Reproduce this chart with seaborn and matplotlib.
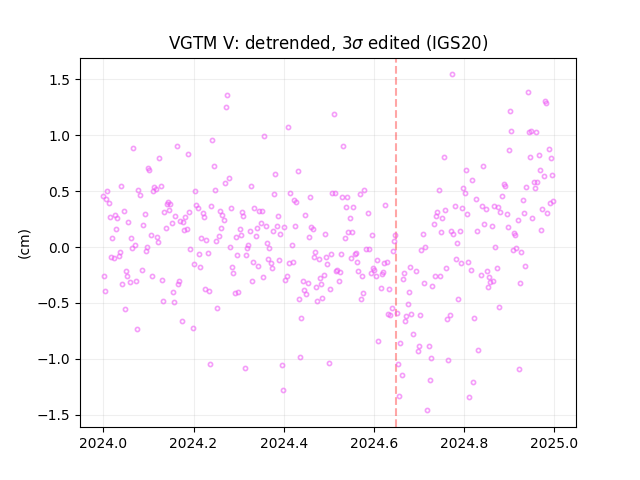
import numpy as np
import pandas as pd
import matplotlib
matplotlib.use('Agg')
import matplotlib.pyplot as plt
import seaborn as sns

# year fraction after 2024.0 and residual in cm
frac_a = [.0660,.1636,.1237,.1880,.0993,.1015,.0393,.0083,.0000,.0061,.0127,.0771,.0815,.1126,.1170,.1104,.1281,.2035,.2058,.2102,
          .1436,.1414,.1481,.1348,.1459,.0460,.0260,.0149,.0305,.0926,.0549,.0882,.0283,.0194,.1059,.1192,.1214,.0615,.1392,.1525,
          .1592,.1814,.1902,.1703,.1769,.1791,.1858,.2213,.2235,.2169,.2280,.0704,.0638,.0970,.1925]
resid_a = [.885,.903,.796,.832,.706,.688,.545,.501,.456,.429,.393,.510,.465,.536,.518,.501,.545,.501,.375,.349,
           .402,.384,.384,.313,.331,.322,.286,.268,.259,.295,.223,.196,.161,.080,.107,.089,.044,.080,.170,.214,
           .277,.268,.313,.232,.223,.152,.161,.304,.268,.080,.062,.018,-.009,0,-.021]

frac_b = [.0948,.0371,.0349,.0172,.0238,.2124,.2013,.2146,.0016,.0504,.0527,.0859,.1081,.1303,.1680,.1658,.0416,.0593,.0726,.0038,
          .1547,.1325,.1569,.0482,.1747,.0749,.1991]
resid_b = [-.036,-.045,-.081,-.090,-.099,-.063,-.152,-.179,-.260,-.215,-.260,-.206,-.260,-.295,-.304,-.331,-.331,-.313,-.304,-.394,
           -.403,-.483,-.492,-.555,-.662,-.734,-.725]

frac_c = [.2746,.2723,.4099,.3567,.2413,.2457,.2790,.2701,.3811,.4321,.3278,.2479,.3788,.4143,.4587,.4232,.4277,.2390,.2834,.2590,
          .2635,.2679,.3078,.3101,.3345,.3456,.3522,.3877,.4476,.3500,.3411,.3611,.3855,.4010,.4254,.4609,.4654,.3766,.3922,.4920,
          .4565,.2612,.3034,.3256,.3056,.2945,.2568,.3389,.2501,.3633,.3212,.4188,.2812,.3189,.3677]
resid_c = [1.359,1.252,1.073,.993,.957,.724,.617,.572,.653,.679,.545,.510,.474,.483,.447,.420,.402,.366,.349,.322,
           .286,.241,.313,.277,.349,.322,.322,.277,.286,.214,.170,.188,.188,.179,.188,.179,.161,.143,.116,.116,
           .089,.170,.161,.143,.107,.089,.098,.098,.053,.035,.018,.018,0,-.009,-.009]

frac_d = [.2324,.2967,.3167,.4698,.4676,.4787,.4942,.5053,.3655,.3899,.3322,.3722,.3744,.3433,.4121,.4210,.4964,.2856,.2879,.3544,
          .3300,.4077,.4033,.4432,.4543,.4898,.4809,.4831,.4720,.5031,.4454,.4498,.4343,.4854,.4743,.2923,.2990,.2265,.2346,.2524,
          .4388,.4365,.2368,.3145,.3966,.5009,.3988]
resid_d = [-.054,-.072,-.072,-.045,-.090,-.108,-.090,-.063,-.108,-.117,-.134,-.143,-.188,-.170,-.143,-.134,-.152,-.179,-.233,-.269,
           -.304,-.260,-.295,-.304,-.322,-.251,-.278,-.331,-.358,-.376,-.385,-.421,-.465,-.456,-.483,-.412,-.403,-.376,-.394,-.546,
           -.635,-.984,-1.047,-1.083,-1.056,-1.038,-1.279]

frac_e = [.5120,.5319,.7561,.5785,.5697,.7450,.5075,.5142,.5297,.5408,.5386,.5541,.6251,.5475,.5874,.7405,.7383,.7583,.7516,.7339,
          .7494,.5430,.5519,.5364,.5963,.6473,.6451,.7095,.7139,.7050,.5830,.5896,.6429]
resid_e = [1.189,.903,.805,.510,.474,.510,.483,.483,.447,.447,.357,.357,.375,.259,.304,.313,.277,.331,.259,.205,
           .134,.134,.134,.080,.107,.107,.053,.116,0,-.024,-.021,-.021,-.036]

frac_f = [.5275,.5586,.5608,.5497,.5630,.6074,.6229,.6296,.6806,.5985,.6007,.5652,.5164,.5186,.5253,.5941,.6207,.6185,.5741,.6052,
          .6673,.6939,.7605,.6651,.7361,.7472,.5231,.7117,.7294,.6163,.6340,.5763,.5719,.6784,.6762,.6407,.6318,.6362,.6518,.6717,
          .6828,.7028,.6695,.7627,.7694,.6873,.6096,.6584,.7006,.7228,.6984,.7272,.7649,.6540,.6629,.7250,.6562,.7183]
resid_f = [-.063,-.063,-.054,-.099,-.134,-.117,-.143,-.134,-.179,-.188,-.206,-.215,-.212,-.206,-.224,-.233,-.224,-.242,-.260,-.260,
           -.233,-.215,-.188,-.287,-.260,-.260,-.304,-.322,-.349,-.367,-.376,-.412,-.465,-.403,-.510,-.546,-.600,-.609,-.591,-.617,
           -.600,-.609,-.662,-.644,-.609,-.778,-.841,-.859,-.886,-.886,-.931,-.993,-1.011,-1.047,-1.145,-1.190,-1.333,-1.458]

frac_g = [.7738,.9424,.9802,.9824,.9025,.9047,.9447,.9491,.9602,.9003,.9890,.9469,.9669,.9935,.8049,.8426,.9691,.9780,.9957,.8182,
          .8892,.8914,.7982,.9380,.9558,.9624,.9580,.8027,.8847,.8271,.9314,.7805,.7960,.8404,.8493,.8670,.8759,.8071,.8803,.8958,
          .9336,.9735,.9846,.9913,.9979,.9513,.9203,.8448,.8626,.8981,.8293,.7916,.7716,.7760,.9114,.9136,.9713,.7849,.8692,.9158,.9092]
resid_g = [1.547,1.386,1.306,1.288,1.216,1.037,1.028,1.037,1.028,.867,.876,.805,.823,.796,.688,.724,.688,.635,.644,.599,
           .563,.545,.527,.536,.581,.581,.527,.483,.456,.429,.420,.366,.349,.366,.340,.366,.357,.295,.313,.295,
           .304,.340,.304,.393,.411,.259,.241,.205,.188,.179,.143,.143,.143,.116,.125,.107,.152,.035,0,-.009,-.027]

frac_h = [.9269,.7827,.7938,.8093,.8160,.8737,.9358,.8382,.8515,.8559,.8574,.8648,.8537,.9247,.7871,.8781,.8226,.8315,.9225,.8204,.8115]
resid_h = [-.045,-.108,-.143,-.134,-.206,-.188,-.170,-.251,-.215,-.269,-.313,-.304,-.358,-.322,-.465,-.537,-.635,-.922,-1.092,-1.208,-1.342]

df = pd.DataFrame({
    'year': 2024 + np.array(frac_a + frac_b + frac_c + frac_d + frac_e + frac_f + frac_g + frac_h),
    'resid': resid_a + resid_b + resid_c + resid_d + resid_e + resid_f + resid_g + resid_h,
})

event_year = 2024.648

fig, ax = plt.subplots(figsize=(6.4, 4.8))
# lineplot with no line, so the markers get snapped like a plain ax.plot
sns.lineplot(data=df, x='year', y='resid', ax=ax, sort=False, estimator=None, errorbar=None,
             linestyle='', marker='o', markersize=3, markerfacecolor='none',
             markeredgecolor='#ee5cf5', markeredgewidth=1.2, alpha=0.6, zorder=3)
ax.axvline(event_year, color='red', linestyle='--', alpha=0.35, zorder=2)
ax.grid(True, alpha=0.2)
ax.set_xlim(2023.9483, 2025.0481)
ax.set_ylim(-1.611, 1.695)
ax.set_title(r'VGTM V: detrended, 3$\sigma$ edited (IGS20)')
ax.set_xlabel('')
ax.set_ylabel('(cm)')
fig.savefig('out.png', dpi=100)
